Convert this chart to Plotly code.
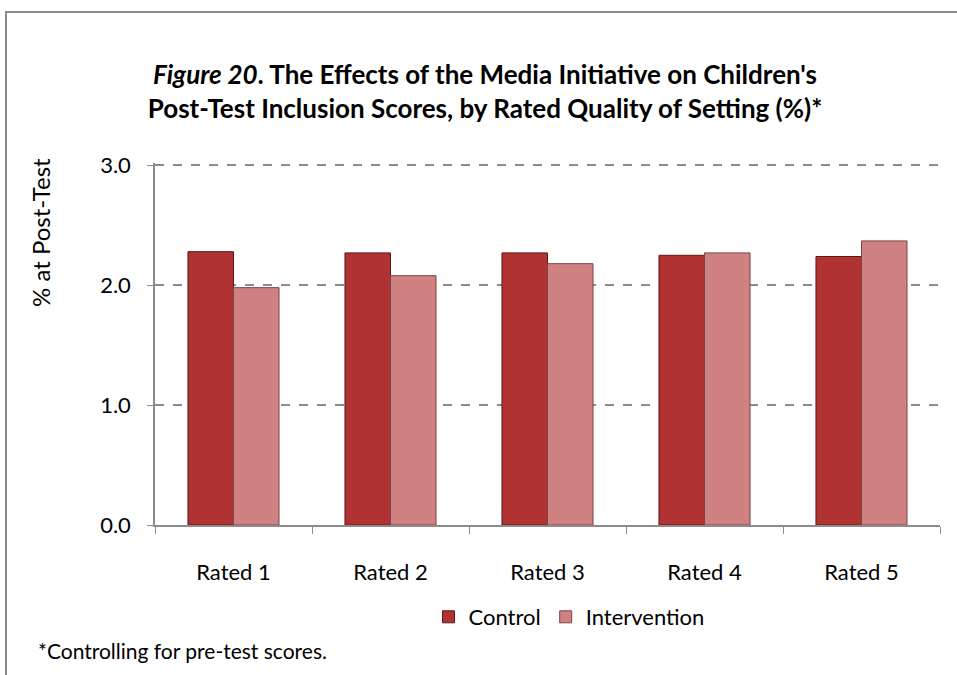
import plotly.graph_objects as go

# Post-test inclusion scores by rated quality of setting
categories = ["Rated 1", "Rated 2", "Rated 3", "Rated 4", "Rated 5"]
control = [2.28, 2.27, 2.27, 2.25, 2.24]
intervention = [1.98, 2.08, 2.18, 2.27, 2.37]
y_ticks = [0.0, 1.0, 2.0, 3.0]

W, H = 957, 675
L, R, T, B = 155, 17, 163, 150
pw, ph = W - L - R, H - T - B


def px(x):
    return (x - L) / pw


def py(y):
    return (H - B - y) / ph


FONT = "Lato"

fig = go.Figure()
fig.add_trace(go.Bar(
    x=categories, y=control, name="Control",
    marker=dict(color="#B03232", line=dict(color="#5E1616", width=1)),
))
fig.add_trace(go.Bar(
    x=categories, y=intervention, name="Intervention",
    marker=dict(color="#D08282", line=dict(color="#7A4444", width=1)),
))

fig.update_layout(
    width=W, height=H,
    margin=dict(l=L, r=R, t=T, b=B, pad=0),
    paper_bgcolor="white", plot_bgcolor="white",
    barmode="group", bargap=0.42, bargroupgap=0,
    font=dict(family=FONT, color="#000000", size=23),
    title=dict(
        text="<b><i>Figure 20</i>. The Effects of the Media Initiative on Children's<br>"
             "Post-Test Inclusion Scores, by Rated Quality of Setting (%)*</b>",
        font=dict(family=FONT, size=26, color="#000000"),
        x=485 / W, xanchor="center", xref="container",
        y=1 - 84 / H, yanchor="middle", yref="container",
    ),
    showlegend=True,
    legend=dict(
        orientation="h", x=px(569), xanchor="center", y=py(617), yanchor="middle",
        font=dict(family=FONT, size=22), itemwidth=30, traceorder="normal",
        bgcolor="rgba(0,0,0,0)",
    ),
    xaxis=dict(
        showline=True, linecolor="#8C8C8C", linewidth=1.5,
        ticks="outside", tickson="boundaries", ticklen=7, tickcolor="#8C8C8C",
        tickfont=dict(family=FONT, size=22), ticklabelstandoff=27,
        showgrid=False,
    ),
    yaxis=dict(
        range=[0, 3.02], tickvals=y_ticks, tickformat=".1f",
        showline=True, linecolor="#8C8C8C", linewidth=1.5,
        ticks="outside", ticklen=6, tickcolor="#8C8C8C",
        tickfont=dict(family=FONT, size=22), ticklabelstandoff=12,
        showgrid=True, gridcolor="#8C8C8C", gridwidth=1.5, griddash="dash",
        zeroline=False,
    ),
    annotations=[
        dict(text="% at Post-Test", x=px(40), y=py(233), xref="paper", yref="paper",
             textangle=-90, showarrow=False, font=dict(family=FONT, size=24),
             xanchor="center", yanchor="middle"),
        dict(text="*Controlling for pre-test scores.", x=px(36), y=py(650),
             xref="paper", yref="paper", showarrow=False,
             font=dict(family=FONT, size=21), xanchor="left", yanchor="middle"),
    ],
    shapes=[
        dict(type="rect", xref="paper", yref="paper",
             x0=px(6), x1=px(W + 20), y0=py(H + 20), y1=py(12),
             line=dict(color="#8C8C8C", width=2), layer="below"),
    ],
)

fig.write_html("out.html")
